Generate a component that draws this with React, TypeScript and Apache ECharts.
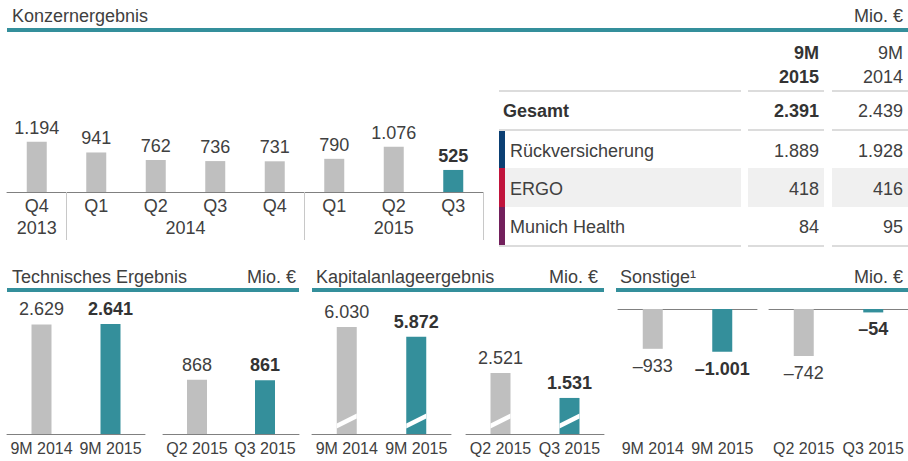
import React, { useEffect, useRef } from "react";
import * as echarts from "echarts";

// ---------- data ----------
const quarters = ["Q4", "Q1", "Q2", "Q3", "Q4", "Q1", "Q2", "Q3"];
const quarterYears = ["2013", "2014", "2014", "2014", "2014", "2015", "2015", "2015"];
const konzernergebnis = [1194, 941, 762, 736, 731, 790, 1076, 525];

const periods9M = ["9M 2014", "9M 2015"];
const periodsQ = ["Q2 2015", "Q3 2015"];
const technisch9M = [2629, 2641];
const technischQ = [868, 861];
const kapital9M = [6030, 5872];
const kapitalQ = [2521, 1531];
const sonstige9M = [-933, -1001];
const sonstigeQ = [-742, -54];

const tableHeaders = ["9M\n2015", "9M\n2014"];
const totalLabel = "Gesamt";
const total2015 = 2391;
const total2014 = 2439;
const segments = ["Rückversicherung", "ERGO", "Munich Health"];
const segment2015 = [1889, 418, 84];
const segment2014 = [1928, 416, 95];
const segmentColors = ["#0b3f73", "#c0143c", "#72205c"];

const panelTitles = ["Technisches Ergebnis", "Kapitalanlageergebnis", "Sonstige¹"];
const unit = "Mio. €";

// ---------- style ----------
const FONT = '"Liberation Sans", Arial, Helvetica, sans-serif';
const TEAL = "#348f9b";
const GREY = "#bfbfbf";
const TXT = "#404040";
const TXT_B = "#333333";
const AXIS = "#808080";

const fmt = (v: number) => {
  const s = Math.abs(v).toString().replace(/\B(?=(\d{3})+(?!\d))/g, ".");
  return (v < 0 ? "–" : "") + s;
};

function barSeries(xi: number, yi: number, values: number[], position: string, distance: number) {
  return {
    type: "bar",
    xAxisIndex: xi,
    yAxisIndex: yi,
    barWidth: 20,
    data: values.map((v, i) => {
      const hl = i === values.length - 1;
      return {
        value: v,
        itemStyle: { color: hl ? TEAL : GREY },
        label: { fontWeight: hl ? "bold" : "normal", color: hl ? TXT_B : TXT },
      };
    }),
    label: {
      show: true,
      position,
      distance,
      fontSize: 18,
      fontFamily: FONT,
      formatter: (p: any) => fmt(p.value),
    },
  };
}

const labelStyle = (size: number, margin: number) => ({
  fontSize: size,
  color: TXT,
  fontFamily: FONT,
  margin,
  interval: 0,
});

const catAxis = (grid: number, data: string[], extra: any = {}) => ({
  type: "category",
  gridIndex: grid,
  data,
  axisLine: { show: true, onZero: false, lineStyle: { color: AXIS, width: 1 } },
  axisTick: { show: false },
  axisLabel: labelStyle(16, 6),
  ...extra,
});

const valAxis = (grid: number, min: number, max: number) => ({
  type: "value",
  gridIndex: grid,
  min,
  max,
  show: false,
  splitLine: { show: false },
});

export default function App() {
  const ref = useRef<HTMLDivElement>(null);

  useEffect(() => {
    if (!ref.current) return;
    const chart = echarts.init(ref.current, null, { renderer: "svg" });

    const option: any = {
      animation: false,
      grid: [
        { left: 7, top: 87, width: 476, height: 105 },
        { left: 7, top: 309, width: 138, height: 125 },
        { left: 163, top: 309, width: 136, height: 125 },
        { left: 312, top: 308, width: 139, height: 126 },
        { left: 466, top: 308, width: 138, height: 126 },
        { left: 618, top: 309, width: 139, height: 128 },
        { left: 769, top: 309, width: 139, height: 127 },
      ],
      xAxis: [
        catAxis(0, quarters, {
          axisTick: {
            show: true,
            length: 48,
            interval: (i: number) => i > 0 && quarterYears[i] !== quarterYears[i - 1],
            lineStyle: { color: "#c8c8c8", width: 1 },
          },
          axisLabel: labelStyle(18, 5),
        }),
        catAxis(1, periods9M),
        catAxis(2, periodsQ),
        catAxis(3, periods9M),
        catAxis(4, periodsQ),
        catAxis(5, periods9M, { position: "top", axisLabel: { show: false } }),
        catAxis(5, periods9M, { position: "bottom", axisLine: { show: false }, axisLabel: labelStyle(16, 3) }),
        catAxis(6, periodsQ, { position: "top", axisLabel: { show: false } }),
        catAxis(6, periodsQ, { position: "bottom", axisLine: { show: false }, axisLabel: labelStyle(16, 4) }),
      ],
      yAxis: [
        valAxis(0, 0, 2500),
        valAxis(1, 0, 3000),
        valAxis(2, 0, 2000),
        valAxis(3, 4330, 6330),
        valAxis(4, 100, 5100),
        valAxis(5, -3000, 0),
        valAxis(6, -2000, 0),
      ],
      series: [
        barSeries(0, 0, konzernergebnis, "top", 5),
        barSeries(1, 1, technisch9M, "top", 6),
        barSeries(2, 2, technischQ, "top", 6),
        barSeries(3, 3, kapital9M, "top", 6),
        barSeries(4, 4, kapitalQ, "top", 6),
        barSeries(5, 5, sonstige9M, "bottom", 8),
        barSeries(7, 6, sonstigeQ, "bottom", 8),
      ],
    };
    chart.setOption(option);

    const g: any[] = [];
    const text = (t: string, x: number, y: number, align = "left", bold = false, size = 18, color = TXT) =>
      g.push({
        type: "text",
        x,
        y,
        z: 50,
        style: {
          text: t,
          fill: bold ? TXT_B : color,
          fontSize: size,
          fontFamily: FONT,
          fontWeight: bold ? "bold" : "normal",
          textAlign: align,
          textVerticalAlign: "middle",
        },
      });
    const rect = (x: number, y: number, w: number, h: number, fill: string, z = 10) =>
      g.push({ type: "rect", z, shape: { x, y, width: w, height: h }, style: { fill } });

    // Section headers
    text("Konzernergebnis", 12, 16);
    text(unit, 903, 16, "right");
    rect(7, 28, 901, 4, TEAL);
    const panels = [
      { l: 7, r: 299, tx: 12, ux: 296 },
      { l: 312, r: 604, tx: 316, ux: 598 },
      { l: 616, r: 908, tx: 620, ux: 903 },
    ];
    panels.forEach((p, i) => {
      text(panelTitles[i], p.tx, 277);
      text(unit, p.ux, 277, "right");
      rect(p.l, 288, p.r - p.l, 4, TEAL);
    });

    // Year labels under quarter axis
    const baseY = chart.convertToPixel({ yAxisIndex: 0 }, 0) as number;
    const years = Array.from(new Set(quarterYears));
    years.forEach((yr) => {
      const xs = quarterYears
        .map((q, i) => (q === yr ? (chart.convertToPixel({ xAxisIndex: 0 }, i) as number) : null))
        .filter((v) => v !== null) as number[];
      const cx = xs.reduce((a, b) => a + b, 0) / xs.length;
      text(yr, cx, baseY + 36, "center");
    });

    // Table
    const cols = [
      { a: 499, b: 741 },
      { a: 748, b: 824 },
      { a: 832, b: 908 },
    ];
    const hline = (y: number) => cols.forEach((c) => rect(c.a, y - 1, c.b - c.a, 2, "#dcdcdc"));
    tableHeaders.forEach((h, i) => {
      const xr = i === 0 ? 819 : 903;
      h.split("\n").forEach((line, j) => text(line, xr, 53 + j * 24, "right", i === 0));
    });
    hline(91);
    text(totalLabel, 503, 111, "left", true);
    text(fmt(total2015), 819, 111, "right", true);
    text(fmt(total2014), 903, 111, "right");
    hline(130);
    const rowTops = [131, 168, 207];
    const rowBots = [168, 207, 245];
    segments.forEach((s, i) => {
      const t = rowTops[i];
      const b = rowBots[i];
      if (i === 1) {
        rect(505, t, 741 - 505, b - t, "#f0f0f0", 5);
        rect(748, t, 76, b - t, "#f0f0f0", 5);
        rect(832, t, 76, b - t, "#f0f0f0", 5);
      }
      rect(499, t, 6, b - t, segmentColors[i]);
      const cy = (t + b) / 2 + 1;
      text(s, 510, cy);
      text(fmt(segment2015[i]), 819, cy, "right");
      text(fmt(segment2014[i]), 903, cy, "right");
    });
    hline(246);

    // Axis-break slashes on Kapitalanlageergebnis bars
    const slash = (xi: number, yi: number, cats: string[], min: number) => {
      const base = chart.convertToPixel({ yAxisIndex: yi }, min) as number;
      cats.forEach((c) => {
        const cx = chart.convertToPixel({ xAxisIndex: xi }, c) as number;
        g.push({
          type: "polygon",
          z: 100,
          shape: {
            points: [
              [cx - 10, base - 5.5],
              [cx + 10, base - 15.5],
              [cx + 10, base - 20.5],
              [cx - 10, base - 10.5],
            ],
          },
          style: { fill: "#ffffff" },
        });
      });
    };
    slash(3, 3, periods9M, 4330);
    slash(4, 4, periodsQ, 100);

    chart.setOption({ graphic: g });

    return () => chart.dispose();
  }, []);

  return (
    <div
      ref={ref}
      style={{ position: "fixed", left: 0, top: 0, width: 908, height: 461, background: "#fff" }}
    />
  );
}
